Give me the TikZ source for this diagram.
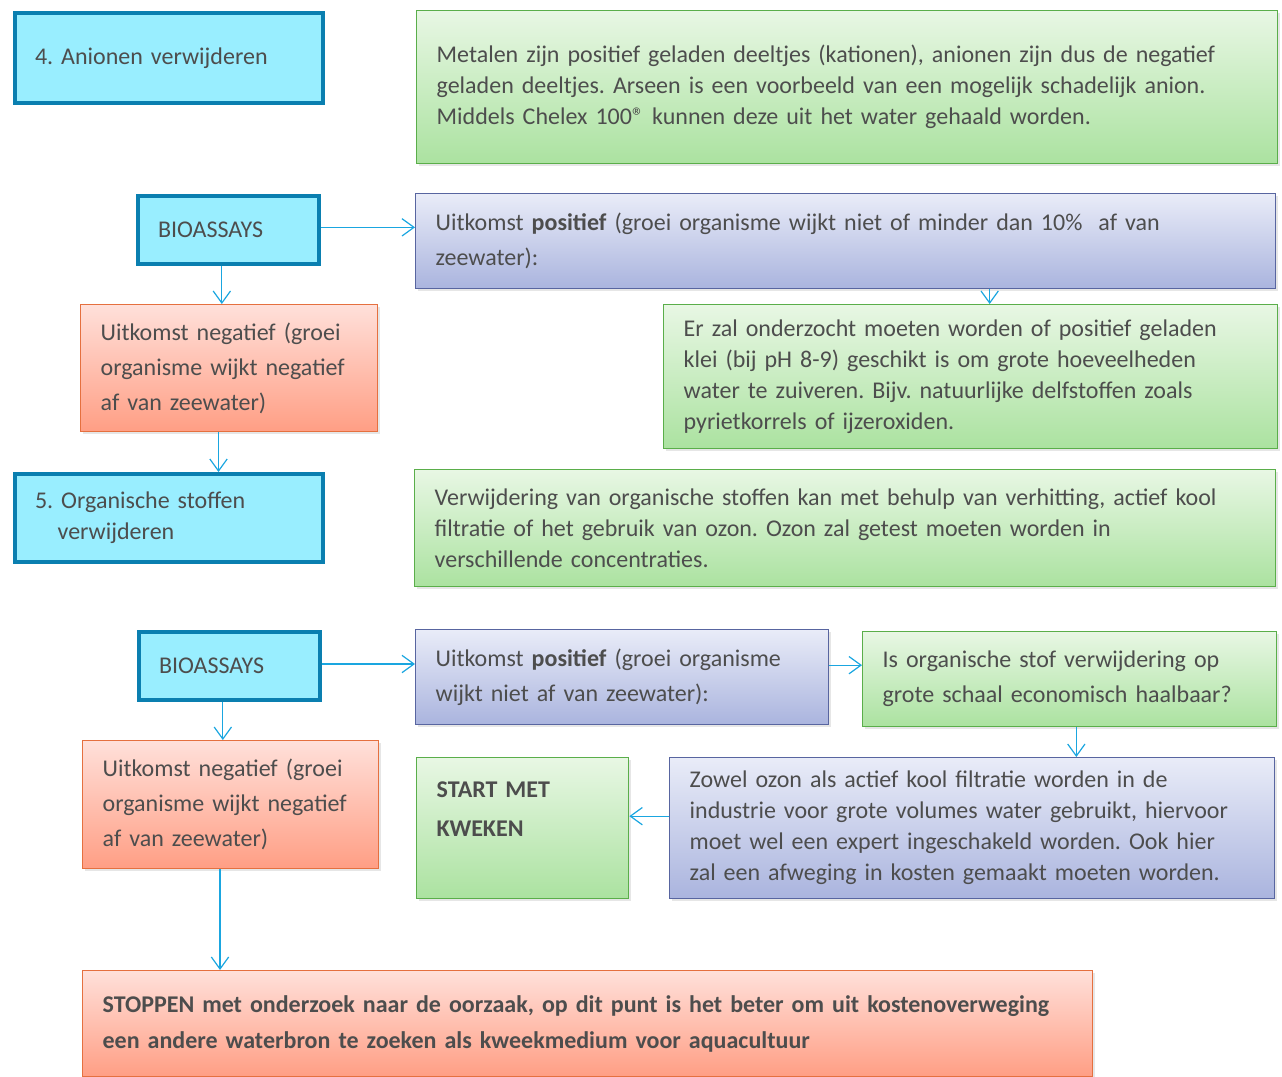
\documentclass[tikz,border=0pt]{standalone}
\usepackage{fontspec}
\setmainfont{Carlito}
\usepackage{tikz}
\usetikzlibrary{arrows.meta,shadows}

\definecolor{tekst}{HTML}{4D4D4D}
\definecolor{cyaanvul}{HTML}{99EEFF}
\definecolor{cyaanlijn}{HTML}{0A7FB0}
\definecolor{groenboven}{HTML}{E8F7E4}
\definecolor{groenonder}{HTML}{ABE2A0}
\definecolor{groenlijn}{HTML}{5AAE4A}
\definecolor{blauwboven}{HTML}{E9ECF8}
\definecolor{blauwonder}{HTML}{AAB4DE}
\definecolor{blauwlijn}{HTML}{5865A0}
\definecolor{roodboven}{HTML}{FFE0DA}
\definecolor{roodonder}{HTML}{FF9E84}
\definecolor{roodlijn}{HTML}{E5703F}
\definecolor{pijl}{HTML}{1AA6E0}

\begin{document}
\frenchspacing
\begin{tikzpicture}[x=0.75pt, y=-0.75pt,
    vak/.style={anchor=north west, align=left, inner xsep=15pt, inner ysep=0pt,
        text=tekst, font=\fontsize{18}{23.25}\selectfont,
        drop shadow={opacity=0.2, shadow xshift=1.5pt, shadow yshift=-1.5pt}},
    stap/.style={vak, fill=cyaanvul, draw=cyaanlijn, line width=3pt},
    groen/.style={vak, draw=groenlijn, line width=1pt, top color=groenboven, bottom color=groenonder},
    blauw/.style={vak, draw=blauwlijn, line width=1pt, top color=blauwboven, bottom color=blauwonder},
    rood/.style={vak, draw=roodlijn, line width=1pt, top color=roodboven, bottom color=roodonder},
    ruim/.style={font=\fontsize{18}{26.25}\selectfont},
    pijl/.style={draw=pijl, line width=0.9pt, -{Straight Barb[length=9pt, width=13pt]}}]
    \useasboundingbox (0,0) rectangle (1282,1076);

    % stap 4
    \node[stap, text width=201pt, minimum height=67.5pt] (anion) at (13,11) {4. Anionen verwijderen};
    \node[groen, text width=615.75pt, minimum height=114.75pt] (uitleganion) at (416,10)
        {Metalen zijn positief geladen deeltjes (kationen), anionen zijn dus de negatief\\
         geladen deeltjes. Arseen is een voorbeeld van een mogelijk schadelijk anion.\\
         Middels Chelex 100® kunnen deze uit het water gehaald worden.};
    \node[stap, text width=105.75pt, minimum height=51pt] (bioa) at (136,194) {BIOASSAYS};
    \node[blauw, ruim, text width=615pt, minimum height=71.25pt] (positiefa) at (415,193)
        {Uitkomst \textbf{positief} (groei organisme wijkt niet of minder dan 10\%\ \ af van\\ zeewater):};
    \node[groen, text width=430.5pt, minimum height=108pt] (klei) at (663,304)
        {Er zal onderzocht moeten worden of positief geladen\\
         klei (bij pH 8-9) geschikt is om grote hoeveelheden\\
         water te zuiveren. Bijv. natuurlijke delfstoffen zoals\\
         pyrietkorrels of ijzeroxiden.};
    \node[rood, ruim, text width=192.75pt, minimum height=95.25pt] (negatiefa) at (80,304)
        {Uitkomst negatief (groei\\ organisme wijkt negatief\\ af van zeewater)};

    % stap 5
    \node[stap, text width=201pt, minimum height=66pt] (organisch) at (13,472)
        {5. Organische stoffen\\ \hspace*{17pt}verwijderen};
    \node[groen, text width=615.75pt, minimum height=87.75pt] (uitlegorganisch) at (414,469)
        {Verwijdering van organische stoffen kan met behulp van verhitting, actief kool\\
         filtratie of het gebruik van ozon. Ozon zal getest moeten worden in\\
         verschillende concentraties.};
    \node[stap, text width=105.75pt, minimum height=51pt] (biob) at (137,630) {BIOASSAYS};
    \node[blauw, ruim, text width=279.75pt, minimum height=71.25pt] (positiefb) at (415,629)
        {Uitkomst \textbf{positief} (groei organisme\\ wijkt niet af van zeewater):};
    \node[groen, ruim, text width=280.5pt, minimum height=71.25pt] (haalbaar) at (862,631)
        {Is organische stof verwijdering op\\ grote schaal economisch haalbaar?};
    \node[rood, ruim, text width=192pt, minimum height=96pt] (negatiefb) at (82,740)
        {Uitkomst negatief (groei\\ organisme wijkt negatief\\ af van zeewater)};
    \node[groen, font=\bfseries\fontsize{18}{29.25}\selectfont, text width=129pt, minimum height=105.75pt] (start) at (416,757)
        {START MET\\ KWEKEN\\ \mbox{}};
    \node[blauw, text width=423.75pt, minimum height=105.75pt] (ozon) at (669,757)
        {Zowel ozon als actief kool filtratie worden in de\\
         industrie voor grote volumes water gebruikt, hiervoor\\
         moet wel een expert ingeschakeld worden. Ook hier\\
         zal een afweging in kosten gemaakt moeten worden.};
    \node[rood, font=\bfseries\fontsize{18}{27}\selectfont, text width=727.5pt, minimum height=79.5pt] (stoppen) at (82,970)
        {STOPPEN met onderzoek naar de oorzaak, op dit punt is het beter om uit kostenoverweging\\
         een andere waterbron te zoeken als kweekmedium voor aquacultuur};

    % pijlen
    \draw[pijl] ([yshift=2pt]bioa.east) -- ([yshift=2pt]bioa.east -| positiefa.west);
    \draw[pijl] ([xshift=-5pt]bioa.south) -- ([xshift=-5pt]bioa.south |- negatiefa.north);
    \draw[pijl] ([xshift=14.25pt]klei.north |- positiefa.south) -- ([xshift=14.25pt]klei.north);
    \draw[pijl] ([xshift=-8pt]negatiefa.south) -- ([xshift=-8pt]negatiefa.south |- organisch.north);
    \draw[pijl] ([yshift=1.5pt]biob.east) -- ([yshift=1.5pt]biob.east -| positiefb.west);
    \draw[pijl] ([xshift=-5pt]biob.south) -- ([xshift=-5pt]biob.south |- negatiefb.north);
    \draw[pijl] ([yshift=9pt]positiefb.east) -- ([yshift=9pt]positiefb.east -| haalbaar.west);
    \draw[pijl] ([xshift=5pt]haalbaar.south) -- ([xshift=5pt]haalbaar.south |- ozon.north);
    \draw[pijl] ([yshift=9pt]ozon.west) -- ([yshift=9pt]ozon.west -| start.east);
    \draw[pijl] ([xshift=-8pt]negatiefb.south) -- ([xshift=-8pt]negatiefb.south |- stoppen.north);
\end{tikzpicture}
\end{document}
